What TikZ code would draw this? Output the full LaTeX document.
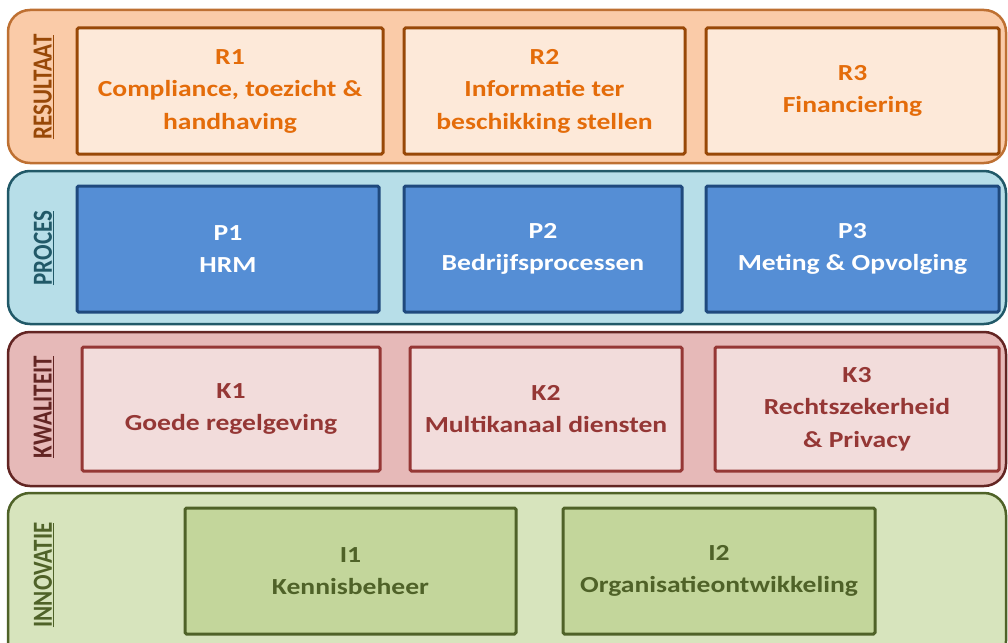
\documentclass[tikz,border=0pt]{standalone}
\usepackage{fontspec}
\setmainfont{Carlito}[FakeStretch=1.2]
\newfontfamily\lblfont{Carlito}
\definecolor{rband}{RGB}{250,203,168}
\definecolor{rbandline}{RGB}{190,112,50}
\definecolor{rbox}{RGB}{253,233,217}
\definecolor{rboxline}{RGB}{152,72,7}
\definecolor{rtext}{RGB}{228,108,10}
\definecolor{pband}{RGB}{183,222,232}
\definecolor{pbandline}{RGB}{33,89,104}
\definecolor{pbox}{RGB}{85,142,213}
\definecolor{pboxline}{RGB}{31,73,125}
\definecolor{kband}{RGB}{230,185,184}
\definecolor{kbandline}{RGB}{99,37,35}
\definecolor{kbox}{RGB}{242,220,219}
\definecolor{kboxline}{RGB}{149,55,53}
\definecolor{iband}{RGB}{215,228,189}
\definecolor{ibandline}{RGB}{79,98,40}
\definecolor{ibox}{RGB}{195,214,155}
\definecolor{iboxline}{RGB}{79,98,40}
\tikzset{
  band/.style={draw, line width=2.5pt, rounded corners=22pt, inner sep=0pt, outer sep=0pt},
  box/.style={draw, line width=3pt, rounded corners=1.5pt, inner sep=0pt, outer sep=0pt,
    align=center, font=\fontsize{23}{32.5}\selectfont\bfseries},
  lbl/.style={rotate=90, inner sep=0pt, font=\lblfont\fontsize{23}{27}\selectfont\bfseries}
}
\begin{document}
\begin{tikzpicture}[x=1pt,y=-1pt]
\useasboundingbox (0,0) rectangle (1008,642);
\clip (0,0) rectangle (1008,642);
\fill[white] (0,0) rectangle (1008,642);
% bands
\node[band, fill=rband, draw=rbandline, minimum width=998pt, minimum height=153pt] (RB) at (507,86.5) {};
\node[band, fill=pband, draw=pbandline, minimum width=998pt, minimum height=153pt] (PB) at (507,247.5) {};
\node[band, fill=kband, draw=kbandline, minimum width=998pt, minimum height=154pt] (KB) at (507,409) {};
\node[band, fill=iband, draw=ibandline, minimum width=998pt, minimum height=170pt] (IB) at (507,578) {};
% labels
\node[lbl, text=rboxline] (RL) at (44,87) {\scalebox{1}[1.2]{\underline{RESULTAAT}}};
\node[lbl, text=pbandline] (PL) at (44,248) {\scalebox{1}[1.2]{\underline{PROCES}}};
\node[lbl, text=kbandline] (KL) at (44,407) {\scalebox{1}[1.2]{\underline{KWALITEIT}}};
\node[lbl, text=ibandline] (IL) at (44,575) {\scalebox{1}[1.2]{\underline{INNOVATIE}}};
% resultaat
\node[box, fill=rbox, draw=rboxline, text=rtext, minimum width=306pt, minimum height=126pt] (R1) at (230,91) {R1\\Compliance, toezicht \&\\handhaving};
\node[box, fill=rbox, draw=rboxline, text=rtext, minimum width=281pt, minimum height=126pt] (R2) at (544.5,91) {R2\\Informatie ter\\beschikking stellen};
\node[box, fill=rbox, draw=rboxline, text=rtext, minimum width=293pt, minimum height=126pt] (R3) at (852.5,91) {R3\\Financiering};
% proces
\node[box, fill=pbox, draw=pboxline, text=white, minimum width=302pt, minimum height=126pt] (P1) at (228,249) {P1\\HRM};
\node[box, fill=pbox, draw=pboxline, text=white, minimum width=278pt, minimum height=126pt] (P2) at (543,249) {P2\\Bedrijfsprocessen};
\node[box, fill=pbox, draw=pboxline, text=white, minimum width=293pt, minimum height=126pt] (P3) at (852.5,249) {P3\\Meting \& Opvolging};
% kwaliteit
\node[box, fill=kbox, draw=kboxline, text=kboxline, minimum width=298pt, minimum height=124pt] (K1) at (231,409) {K1\\Goede regelgeving};
\node[box, fill=kbox, draw=kboxline, text=kboxline, minimum width=272pt, minimum height=124pt] (K2) at (546,409) {K2\\Multikanaal diensten};
\node[box, fill=kbox, draw=kboxline, text=kboxline, minimum width=284pt, minimum height=124pt] (K3) at (857,409) {K3\\Rechtszekerheid\\\& Privacy};
% innovatie
\node[box, fill=ibox, draw=iboxline, text=iboxline, minimum width=331pt, minimum height=126pt] (I1) at (350.5,571) {I1\\Kennisbeheer};
\node[box, fill=ibox, draw=iboxline, text=iboxline, minimum width=312pt, minimum height=126pt] (I2) at (719,571) {I2\\Organisatieontwikkeling};
\end{tikzpicture}
\end{document}
